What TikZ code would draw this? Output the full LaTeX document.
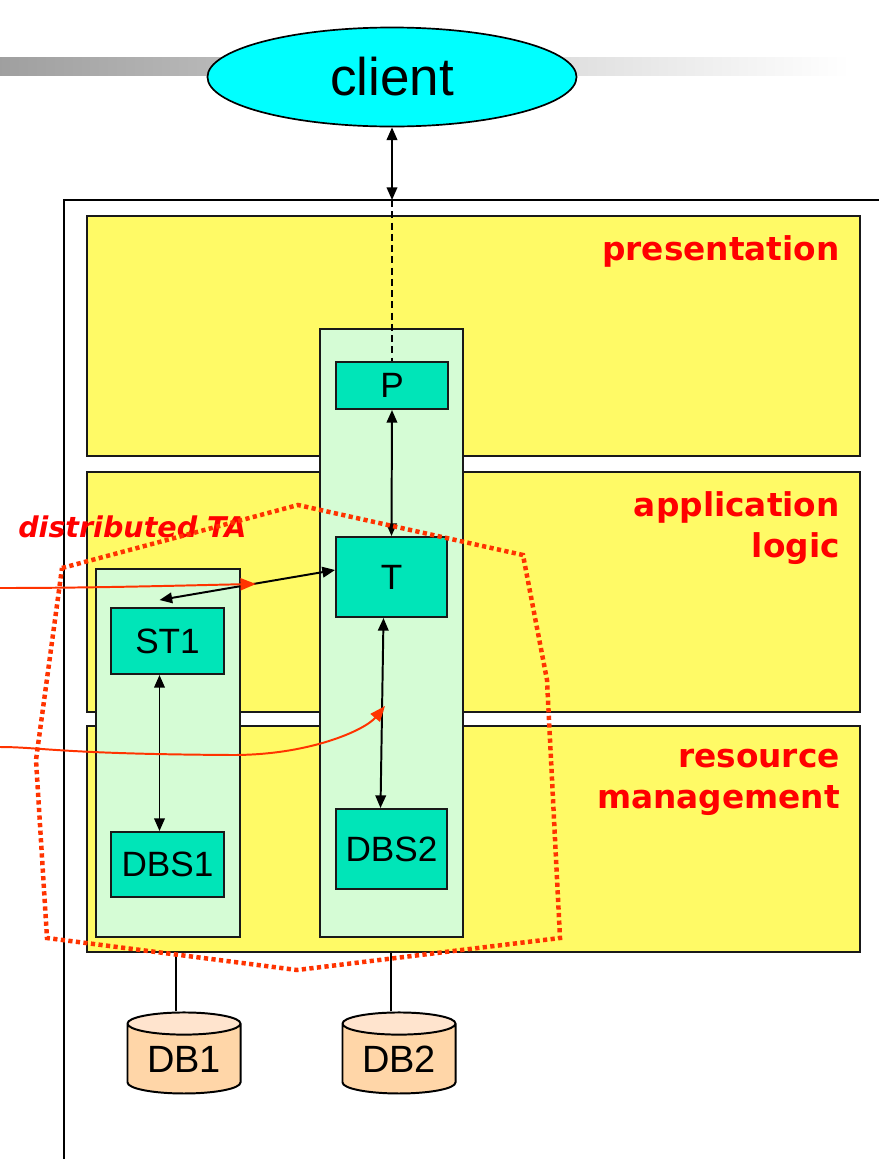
\documentclass[tikz,border=0pt]{standalone}
\usepackage{fontspec}
\setmainfont{Liberation Sans}
\newfontfamily\layerfont{DejaVu Sans}
\usetikzlibrary{arrows.meta, positioning, fit, shapes.geometric}
\definecolor{layeryellow}{HTML}{FFFA66}
\definecolor{colgreen}{HTML}{D5FCD5}
\definecolor{compteal}{HTML}{00E5B8}
\definecolor{clientcyan}{HTML}{00FFFF}
\definecolor{dbbody}{HTML}{FFD6A8}
\definecolor{dbtop}{HTML}{FFE4CE}
\definecolor{tared}{HTML}{FF3300}
\tikzset{
  layer/.style={
    rectangle, draw=black!90, line width=1.6pt, fill=layeryellow, inner sep=0pt
  },
  column/.style={
    rectangle, draw=black!90, line width=1.4pt, fill=colgreen, inner sep=0pt
  },
  comp/.style={
    rectangle, draw=black!90, line width=1.4pt, fill=compteal, inner sep=0pt,
    font=\fontsize{25}{30}\selectfont
  },
  dbcyl/.style={
    cylinder, shape border rotate=90, aspect=0.3, draw, line width=1.4pt,
    cylinder uses custom fill, cylinder body fill=dbbody, cylinder end fill=dbtop,
    minimum width=2.825cm, minimum height=2.025cm, inner sep=0pt,
    font=\fontsize{27}{30}\selectfont
  },
  conn/.style={
    {Triangle[length=9pt,width=7.5pt]}-{Triangle[length=9pt,width=7.5pt]}, line width=1.4pt
  },
  talink/.style={
    -{Triangle[length=11pt,width=8.5pt]}, draw=tared, line width=1.4pt
  },
  taborder/.style={
    draw=tared, line width=3.2pt, dash pattern=on 3pt off 2.4pt
  },
  layerlabel/.style={
    text=red, inner sep=0pt, align=right,
    font=\layerfont\bfseries\fontsize{23.3}{29}\selectfont
  }
}
\begin{document}
\begin{tikzpicture}[x=0.025cm, y=-0.025cm]
  \useasboundingbox (0,0) rectangle (879,1159);

  % Title bar
  \shade[left color=gray!75, right color=white] (0,57) rectangle (850,75);

  % Outer frame
  \draw[line width=1.2pt] (64,1159) -- (64,200) -- (879,200);

  % Layers
  \node[layer, fit={(87,216) (860,456)}] (pres) {};
  \node[layer, fit={(87,472) (860,712)}] (logic) {};
  \node[layer, fit={(87,726) (860,952)}] (rm) {};
  \node[layerlabel, anchor=east] at (840,251) {presentation};
  \node[layerlabel, anchor=east] at (840,528) {application\\logic};
  \node[layerlabel, anchor=east] at (840,782) {resource\\management};

  % Columns and components
  \node[column, fit={(96,569) (240,937)}] (col1) {};
  \node[column, fit={(320,329) (463,937)}] (col2) {};
  \node[comp, minimum width=2.8cm, minimum height=1.175cm] (P) at (392,385.5) {P};
  \node[comp, minimum width=2.775cm, minimum height=2cm] (T) at (391.5,577) {T};
  \node[comp, minimum width=2.825cm, minimum height=1.65cm] (ST1) at (167.5,641) {ST1};
  \node[comp, minimum width=2.825cm, minimum height=1.625cm] (DBS1) at (167.5,864.5) {DBS1};
  \node[comp, minimum width=2.775cm, minimum height=2cm] (DBS2) at (391.5,849) {DBS2};

  % Client
  \node[ellipse, draw, line width=1.2pt, fill=clientcyan, minimum width=9.225cm,
    minimum height=2.475cm, inner sep=0pt, font=\fontsize{37.7}{45}\selectfont]
    (client) at (392,77) {client};

  % Databases
  \node[dbcyl] (DB1) at (184,1059) {DB1};
  \node[dbcyl] (DB2) at (399,1059) {DB2};
  \coordinate (db1top) at ([xshift=-0.2cm]DB1.north);
  \coordinate (db2top) at ([xshift=-0.2cm]DB2.north);
  \draw[line width=1.2pt] (db1top) -- (db1top |- rm.south);
  \draw[line width=1.2pt] (db2top) -- (db2top |- rm.south);

  % Connections
  \coordinate (frametop) at (392,200);
  \draw[conn] (client.south) -- (frametop);
  \draw[dashed, line width=1.2pt, dash pattern=on 5pt off 3pt] (frametop) -- (P.north);
  \draw[conn] (P.south) -- (T.north);
  \draw[conn] ([shift={(-8,0)}]T.south) -- ([shift={(-11,0)}]DBS2.north);
  \draw[conn] ([shift={(-8,0)}]ST1.south) -- ([shift={(-8,0)}]DBS1.north);
  \draw[conn] ([shift={(-8,-7)}]ST1.north) -- ([shift={(0,-7)}]T.west);

  % Distributed transaction
  \node[text=red, inner sep=0pt, anchor=west,
    font=\layerfont\bfseries\itshape\fontsize{20.3}{24}\selectfont]
    (talabel) at (18,527) {distributed TA};
  \coordinate (in1) at (0,588);
  \coordinate (tip1) at (256,584);
  \coordinate (in2) at (0,747);
  \coordinate (tip2) at (385,706);
  \draw[talink] (in1) .. controls (100,588) and (200,585) .. (tip1);
  \draw[talink] (in2) .. controls (40,747) and (60,754) .. (233,755)
    .. controls (310,755) and (365,730) .. (tip2);
  \draw[taborder] (62,568) -- (298,505) -- (523,555) -- (547,680) -- (560,938)
    -- (297,970) -- (47,938) -- (36,760) -- cycle;
\end{tikzpicture}
\end{document}
